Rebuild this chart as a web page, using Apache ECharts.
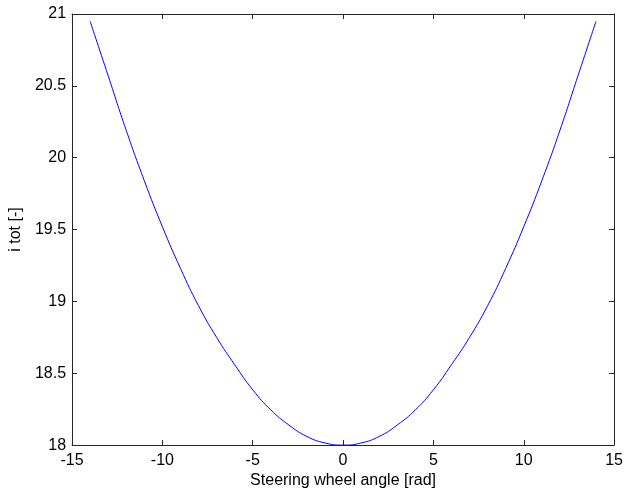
<!DOCTYPE html>
<html><head><meta charset="utf-8">
<script src="https://cdn.jsdelivr.net/npm/echarts@6/dist/echarts.min.js"></script>
<style>html,body{margin:0;padding:0;background:#fff}#c{width:626px;height:494px}</style>
</head><body><div id="c"></div>
<script>
const angles = [-14,-13,-12,-11,-10,-9,-8,-7,-6,-5,-4,-3,-2,-1,0,1,2,3,4,5,6,7,8,9,10,11,12,13,14];
const itot = [20.95,20.57,20.19,19.84,19.52,19.23,18.97,18.75,18.56,18.385,18.245,18.14,18.06,18.015,18.0,18.015,18.06,18.14,18.245,18.385,18.56,18.75,18.97,19.23,19.52,19.84,20.19,20.57,20.95];
const xTicks = {min:-15,max:15,interval:5};
const yTicks = {min:18,max:21,interval:0.5};
const xTitle = 'Steering wheel angle [rad]';
const yTitle = 'i tot [-]';

const font = 'Liberation Sans, Arial, sans-serif';
const axisLine = {show:true,onZero:false,lineStyle:{color:'#262626',width:1}};
const tick = {show:true,inside:true,length:5,lineStyle:{color:'#262626'}};
const chart = echarts.init(document.getElementById('c'),null,{renderer:'canvas'});
chart.setOption({
  animation:false,
  backgroundColor:'#fff',
  grid:{left:72,right:6,top:14,bottom:48},
  xAxis:[
    {type:'value',position:'bottom',min:xTicks.min,max:xTicks.max,interval:xTicks.interval,
     axisLine:axisLine,axisTick:tick,splitLine:{show:false},
     axisLabel:{color:'#000',fontSize:16,fontFamily:font,margin:7},
     name:xTitle,nameLocation:'middle',nameGap:24,nameTextStyle:{color:'#000',fontSize:16,fontFamily:font}},
    {type:'value',position:'top',min:xTicks.min,max:xTicks.max,interval:xTicks.interval,
     axisLine:axisLine,axisTick:tick,splitLine:{show:false},axisLabel:{show:false}}
  ],
  yAxis:[
    {type:'value',position:'left',min:yTicks.min,max:yTicks.max,interval:yTicks.interval,
     axisLine:axisLine,axisTick:tick,splitLine:{show:false},
     axisLabel:{color:'#000',fontSize:16,fontFamily:font,margin:6},
     name:yTitle,nameLocation:'middle',nameGap:46,nameRotate:90,nameTextStyle:{color:'#000',fontSize:16,fontFamily:font}},
    {type:'value',position:'right',min:yTicks.min,max:yTicks.max,interval:yTicks.interval,
     axisLine:axisLine,axisTick:tick,splitLine:{show:false},axisLabel:{show:false}}
  ],
  series:[{type:'line',xAxisIndex:0,yAxisIndex:0,data:angles.map((a,i)=>[a,itot[i]]),
    showSymbol:false,smooth:true,lineStyle:{color:'#0000ff',width:1},itemStyle:{color:'#0000ff'}}]
});
</script></body></html>
